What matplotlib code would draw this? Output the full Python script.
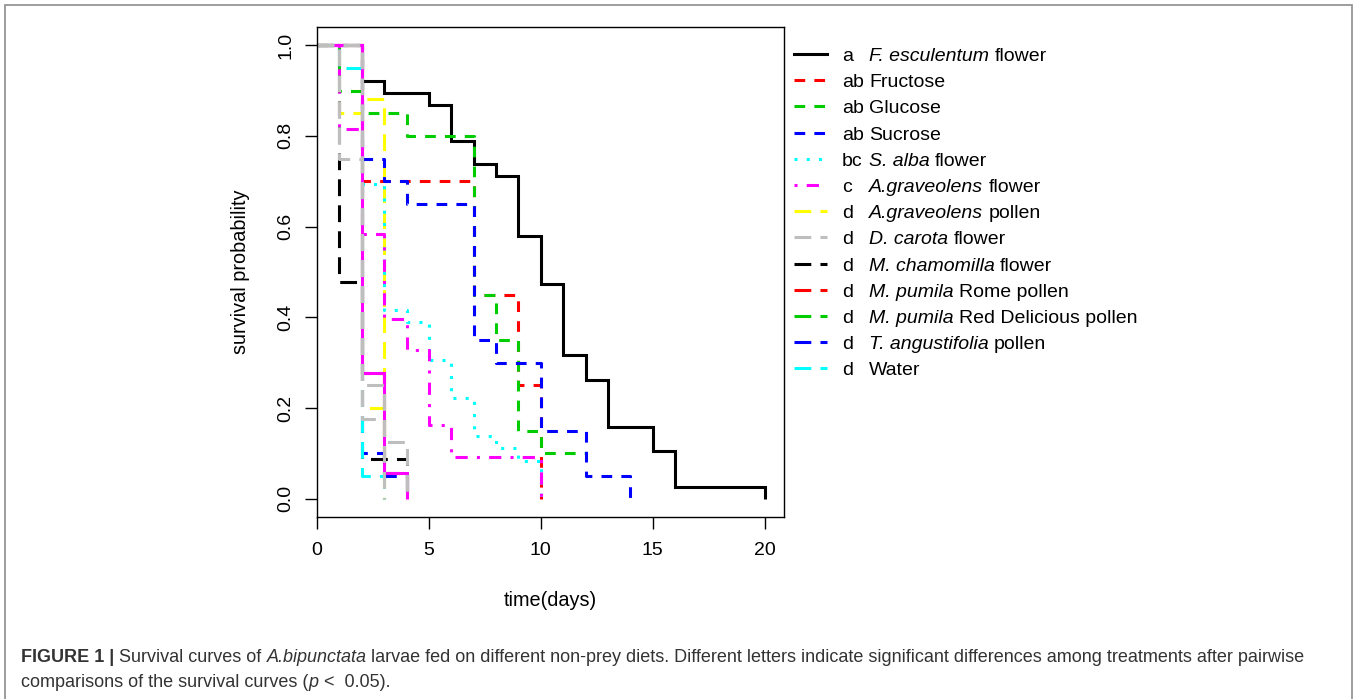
import matplotlib
matplotlib.use("Agg")
import matplotlib.pyplot as plt
from matplotlib.lines import Line2D
from matplotlib.patches import Rectangle

plt.rcParams['font.family'] = ['Liberation Sans', 'DejaVu Sans']

W, H = 1360, 699

# survival curves (time in days, survival probability)
fesc_t = [0, 2, 3, 5, 6, 7, 8, 9, 10, 11, 12, 13, 15, 16, 20]
fesc_s = [1.0, 0.921, 0.895, 0.868, 0.789, 0.737, 0.711, 0.579, 0.474, 0.316, 0.263, 0.158, 0.105, 0.026, 0.0]
fruc_t = [0, 2, 7, 9, 10]
fruc_s = [1.0, 0.70, 0.45, 0.25, 0.0]
gluc_t = [0, 1, 2, 4, 7, 8, 9, 10, 12]
gluc_s = [1.0, 0.90, 0.85, 0.80, 0.45, 0.35, 0.15, 0.10, 0.10]
sucr_t = [0, 2, 3, 4, 7, 8, 10, 12, 14]
sucr_s = [1.0, 0.75, 0.70, 0.65, 0.35, 0.30, 0.15, 0.05, 0.0]
salba_t = [0, 2, 3, 4, 5, 6, 7, 8, 9, 10]
salba_s = [1.0, 0.694, 0.417, 0.389, 0.306, 0.222, 0.139, 0.111, 0.083, 0.0]
agfl_t = [0, 1, 2, 3, 4, 5, 6, 10]
agfl_s = [1.0, 0.816, 0.583, 0.396, 0.327, 0.163, 0.093, 0.0]
agpo_t = [0, 1, 2, 3]
agpo_s = [1.0, 0.85, 0.20, 0.0]
dcar_t = [0, 1, 2, 3]
dcar_s = [1.0, 0.75, 0.25, 0.0]
mcham_t = [0, 1, 2, 4]
mcham_s = [1.0, 0.478, 0.087, 0.0]
rome_t = [0, 2, 3, 4]
rome_s = [1.0, 0.278, 0.056, 0.0]
rdel_t = [0, 2, 3, 4]
rdel_s = [1.0, 0.278, 0.056, 0.0]
tang_t = [0, 2, 3, 4]
tang_s = [1.0, 0.10, 0.05, 0.0]
water_t = [0, 1, 2, 3]
water_s = [1.0, 0.95, 0.05, 0.0]
# three more curves are drawn in the figure but not named in the legend
xmag_t = [0, 2, 3, 4]
xmag_s = [1.0, 0.278, 0.056, 0.0]
xyel_t = [0, 2, 3]
xyel_s = [1.0, 0.882, 0.0]
xgry_t = [0, 2, 3, 4]
xgry_s = [1.0, 0.175, 0.125, 0.0]

# legend text
letters = ['a', 'ab', 'ab', 'ab', 'bc', 'c', 'd', 'd', 'd', 'd', 'd', 'd', 'd']
names_it = ['F. esculentum', '', '', '', 'S. alba', 'A.graveolens', 'A.graveolens',
            'D. carota', 'M. chamomilla', 'M. pumila', 'M. pumila', 'T. angustifolia', '']
names_rm = [' flower', 'Fructose', 'Glucose', 'Sucrose', ' flower', ' flower', ' pollen',
            ' flower', ' flower', ' Rome pollen', ' Red Delicious pollen', ' pollen', 'Water']

x_ticks = [0, 5, 10, 15, 20]
y_ticks = [0.0, 0.2, 0.4, 0.6, 0.8, 1.0]

# R palette and line types
BLACK, RED, GREEN, BLUE = '#000000', '#FF0000', '#00CD00', '#0000FF'
CYAN, MAG, YEL, GRAY = '#00FFFF', '#FF00FF', '#FFFF00', '#BEBEBE'
SOLID = '-'
DASH = (0, (3.5, 3))
DOT = (0, (1, 3))
DOTDASH = (0, (1, 3, 4, 3))
LONG = (0, (5.5, 3))

leg_colors = [BLACK, RED, GREEN, BLUE, CYAN, MAG, YEL, GRAY, BLACK, RED, GREEN, BLUE, CYAN]
leg_styles = [SOLID, DASH, DASH, DASH, DOT, DOTDASH, LONG, LONG, LONG, LONG, LONG, LONG, LONG]

# order in which the curves are laid down (later ones sit on top)
curves = [
    (fesc_t, fesc_s, BLACK, SOLID),
    (agpo_t, agpo_s, YEL, LONG),
    (xyel_t, xyel_s, YEL, LONG),
    (fruc_t, fruc_s, RED, DASH),
    (gluc_t, gluc_s, GREEN, DASH),
    (sucr_t, sucr_s, BLUE, DASH),
    (rome_t, rome_s, RED, LONG),
    (rdel_t, rdel_s, GREEN, LONG),
    (salba_t, salba_s, CYAN, DOT),
    (agfl_t, agfl_s, MAG, DOTDASH),
    (mcham_t, mcham_s, BLACK, LONG),
    (tang_t, tang_s, BLUE, LONG),
    (water_t, water_s, CYAN, LONG),
    (xmag_t, xmag_s, MAG, SOLID),
    (dcar_t, dcar_s, GRAY, LONG),
    (xgry_t, xgry_s, GRAY, LONG),
]

LW = 2.2
FS = 14
fig = plt.figure(figsize=(W / 100, H / 100), dpi=100)
ax = fig.add_axes([317 / W, 1 - 517 / H, (784 - 317) / W, (517 - 27) / H])

for t, s, c, ls in curves:
    ax.step(t, s, where='post', color=c, lw=LW, linestyle=ls,
            dash_capstyle='butt', solid_joinstyle='miter', solid_capstyle='butt')

ax.set_xlim(0, 20.87)
ax.set_ylim(-0.04, 1.04)
ax.set_xticks(x_ticks)
ax.set_xticklabels([str(v) for v in x_ticks])
ax.set_yticks(y_ticks)
ax.set_yticklabels(['%.1f' % v for v in y_ticks], rotation=90, va='center')
ax.tick_params(direction='out', length=8.6, width=1.0, labelsize=FS, colors='black')
ax.tick_params(axis='x', pad=9.5)
ax.tick_params(axis='y', pad=7.5)
for sp in ax.spines.values():
    sp.set_linewidth(1.0)
    sp.set_color('black')

fig.text(240 / W, 1 - 272 / H, 'survival probability', rotation=90,
         ha='center', va='center', fontsize=14.3)
fig.text(550 / W, 1 - 600 / H, 'time(days)', ha='center', va='center', fontsize=14.3)

# outer frame of the figure panel
fig.add_artist(Rectangle((5 / W, -0.02), (1352 - 5) / W, 1 - 5 / H + 0.02,
                         transform=fig.transFigure, fill=False,
                         edgecolor='#8c8c8c', lw=1.2))

fig.canvas.draw()
renderer = fig.canvas.get_renderer()


def width_of(s, **kw):
    t = fig.text(0, 0, s, **kw)
    w = t.get_window_extent(renderer).width
    t.remove()
    return w


def put_pieces(pieces, x0, ybase, size, family, color, keep=True):
    sp = width_of('x x', fontsize=size, family=family) - width_of('xx', fontsize=size, family=family)
    x = x0
    made = []
    for s, weight, style in pieces:
        lead = len(s) - len(s.lstrip(' '))
        trail = len(s) - len(s.rstrip(' '))
        core = s.strip(' ')
        x += lead * sp
        if core:
            t = fig.text(x / W, 1 - ybase / H, core, ha='left', va='baseline',
                         fontsize=size, family=family, fontweight=weight,
                         fontstyle=style, color=color)
            x += t.get_window_extent(renderer).width
            made.append(t)
        x += trail * sp
    if not keep:
        for t in made:
            t.remove()
    return x - x0


# legend
leg_x0, leg_x1 = 794, 827
for i in range(len(letters)):
    yc = 54 + 26.2 * i
    fig.add_artist(Line2D([leg_x0 / W, leg_x1 / W], [1 - yc / H, 1 - yc / H],
                          transform=fig.transFigure, color=leg_colors[i], lw=LW,
                          linestyle=leg_styles[i], dash_capstyle='butt'))
    put_pieces([(letters[i], 'normal', 'normal')], 842, yc + 7, FS,
               ['Liberation Sans', 'DejaVu Sans'], 'black')
    pieces = []
    if names_it[i]:
        pieces.append((names_it[i], 'normal', 'italic'))
    pieces.append((names_rm[i], 'normal', 'normal'))
    put_pieces(pieces, 869, yc + 7, FS, ['Liberation Sans', 'DejaVu Sans'], 'black')

# caption
cap_font = ['Liberation Sans Narrow', 'Liberation Sans', 'DejaVu Sans']
cap_color = '#333333'
line1 = [('FIGURE 1 |', 'bold', 'normal'),
         (' Survival curves of ', 'normal', 'normal'),
         ('A.bipunctata', 'normal', 'italic'),
         (' larvae fed on different non-prey diets. Different letters indicate significant '
          'differences among treatments after pairwise', 'normal', 'normal')]
line2 = [('comparisons of the survival curves (', 'normal', 'normal'),
         ('p', 'normal', 'italic'),
         (' <  0.05).', 'normal', 'normal')]
base = 13.0
w1 = put_pieces(line1, 21, 662, base, cap_font, cap_color, keep=False)
cap_size = base * (1301 - 21) / w1
put_pieces(line1, 21, 662, cap_size, cap_font, cap_color)
put_pieces(line2, 21, 687, cap_size, cap_font, cap_color)

fig.savefig('out.png', dpi=100)
